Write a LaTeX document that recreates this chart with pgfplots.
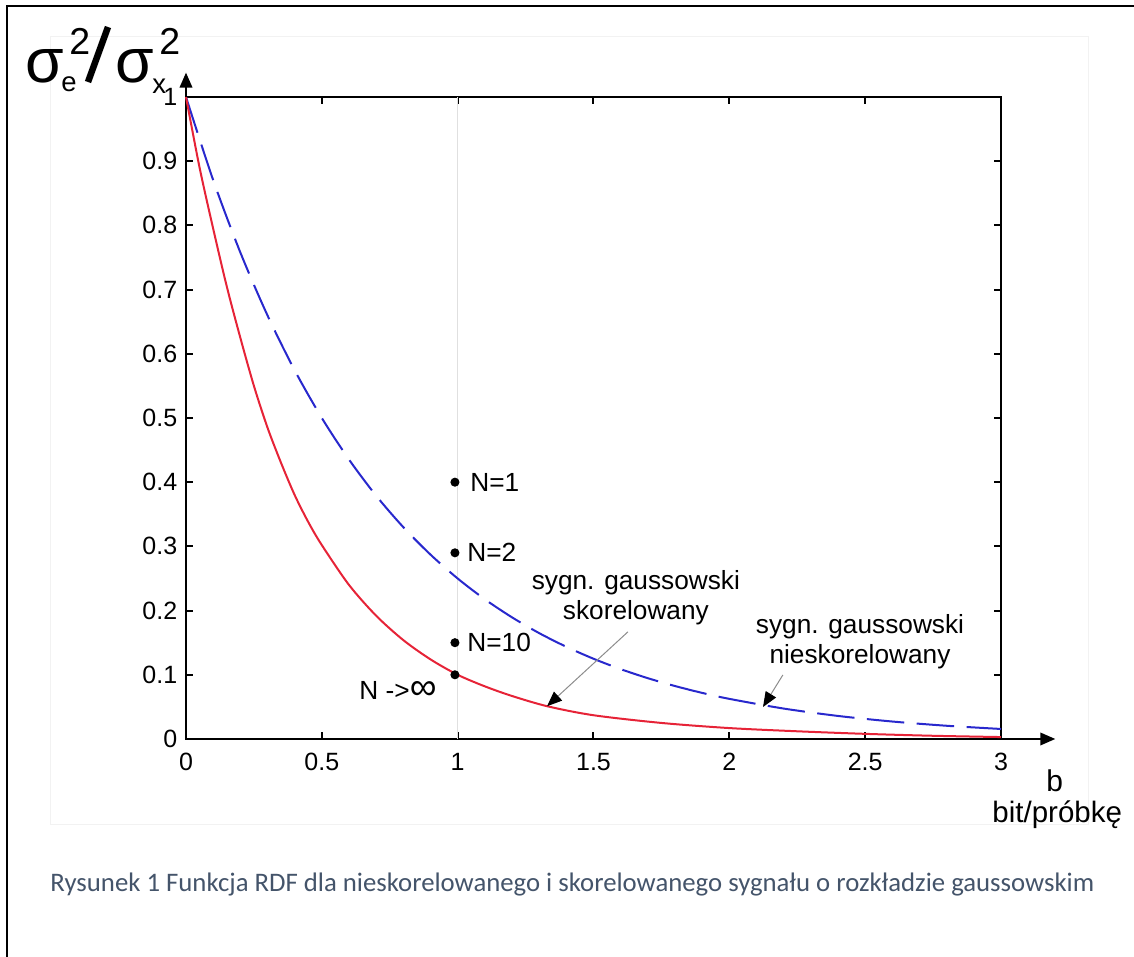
\documentclass[border=0pt]{standalone}
\usepackage{fontspec}
\setmainfont{Liberation Sans}
\newfontfamily\capfont{Carlito}
\usepackage{pgfplots}
\pgfplotsset{compat=1.18}
\usetikzlibrary{arrows.meta}
\definecolor{curveblue}{RGB}{40,40,205}
\definecolor{curvered}{RGB}{230,35,55}
\definecolor{captext}{HTML}{44546A}

\begin{document}
\begin{tikzpicture}
\path[use as bounding box] (0,0) rectangle (453.6pt,382.8pt);
% frame of the page (left and top edge only)
\draw[line width=0.8pt] (2.8pt,0) -- (2.8pt,380.4pt) -- (453.6pt,380.4pt);
\draw[black!5] (20pt,52.8pt) rectangle (435.2pt,368pt);

\begin{axis}[
    at={(74.4pt,87.2pt)}, anchor=south west,
    width=326pt, height=256.8pt, scale only axis,
    xmin=0, xmax=3, ymin=0, ymax=1,
    xtick={0,0.5,1,1.5,2,2.5,3},
    ytick={0,0.1,0.2,0.3,0.4,0.5,0.6,0.7,0.8,0.9,1},
    tick align=inside, major tick length=2.8pt,
    axis line style={line width=0.8pt},
    tick style={line width=0.8pt, black},
    ticklabel style={font=\fontsize{10}{12}\selectfont},
    /pgf/number format/assume math mode=true,
    xticklabel style={yshift=-2pt},
    clip=false,
]
\draw[black!12, line width=0.4pt] (axis cs:1,0) -- (axis cs:1,1);

% uncorrelated gaussian source
\addplot[curveblue, line width=0.8pt, dash pattern=on 15pt off 5pt, smooth] coordinates {
(0,1) (0.1,0.8706) (0.2,0.7579) (0.3,0.6598) (0.4,0.5743) (0.5,0.5)
(0.6,0.4353) (0.7,0.3789) (0.8,0.3299) (0.9,0.2872) (1.0,0.25)
(1.1,0.2176) (1.2,0.1895) (1.3,0.1649) (1.4,0.1436) (1.5,0.125)
(1.6,0.1088) (1.7,0.0947) (1.8,0.0825) (1.9,0.0718) (2.0,0.0625)
(2.2,0.0474) (2.4,0.0359) (2.6,0.0272) (2.8,0.0206) (3.0,0.0156)};

% correlated gaussian source
\addplot[curvered, line width=0.8pt, smooth] coordinates {
(0,1) (0.05,0.89) (0.1,0.795) (0.15,0.705) (0.2,0.625) (0.25,0.55)
(0.3,0.485) (0.35,0.43) (0.4,0.38) (0.45,0.338) (0.5,0.302)
(0.6,0.24) (0.7,0.192) (0.8,0.154) (0.9,0.124) (1.0,0.1)
(1.1,0.082) (1.2,0.067) (1.33,0.051) (1.5,0.037) (1.75,0.025)
(2.0,0.017) (2.25,0.012) (2.5,0.008) (2.75,0.005) (3.0,0.003)};

\addplot[only marks, mark=*, mark size=1.6pt, black] coordinates {
(0.99,0.4) (0.99,0.29) (0.99,0.15) (0.99,0.1)};

\node[anchor=west, inner sep=0, font=\fontsize{10.5}{12}\selectfont] at (axis cs:1.045,0.4) {N=1};
\node[anchor=west, inner sep=0, font=\fontsize{10.5}{12}\selectfont] at (axis cs:1.034,0.29) {N=2};
\node[anchor=west, inner sep=0, font=\fontsize{10.5}{12}\selectfont] at (axis cs:1.034,0.15) {N=10};
\node[anchor=east, inner sep=0, font=\fontsize{10.5}{12}\selectfont] at (axis cs:0.924,0.076) {N ->{\fontsize{15}{15}\selectfont ∞}};

\node[align=center, inner sep=0, font=\fontsize{10.5}{12}\selectfont] at (axis cs:1.656,0.22) {sygn. gaussowski\\skorelowany};
\node[align=center, inner sep=0, font=\fontsize{10.5}{12}\selectfont] at (axis cs:2.481,0.151) {sygn. gaussowski\\nieskorelowany};

\draw[black!45, line width=0.4pt, -{Triangle[length=6pt,width=4.8pt,black]}] (axis cs:1.627,0.167) -- (axis cs:1.329,0.051);
\draw[black!45, line width=0.4pt, -{Triangle[length=6pt,width=4.8pt,black]}] (axis cs:2.197,0.0997) -- (axis cs:2.124,0.0498);

\draw[line width=0.8pt, -{Triangle[length=6pt,width=5pt]}] (axis cs:3,0) -- (axis cs:3.2,0);
\draw[line width=0.8pt, -{Triangle[length=6pt,width=5pt]}] (axis cs:0,1) -- (axis cs:0,1.038);
\end{axis}

\begin{scope}[x=0.4pt,y=0.4pt]
% y label sigma_e^2 / sigma_x^2
\node[anchor=base west, inner sep=0, font=\fontsize{25}{25}\selectfont] at (25,875) {σ};
\node[anchor=base west, inner sep=0, font=\fontsize{11}{11}\selectfont] at (61,866) {e};
\node[anchor=base west, inner sep=0, font=\fontsize{15}{15}\selectfont] at (69,903) {2};
\draw[line width=2.6pt] (88,875) -- (108,930);
\node[anchor=base west, inner sep=0, font=\fontsize{25}{25}\selectfont] at (115,875) {σ};
\node[anchor=base west, inner sep=0, font=\fontsize{11}{11}\selectfont] at (152,864) {x};
\node[anchor=base west, inner sep=0, font=\fontsize{15}{15}\selectfont] at (159,903) {2};
% x label
\node[anchor=base west, inner sep=0, font=\fontsize{12}{12}\selectfont] at (1046,165) {b};
\node[anchor=base west, inner sep=0, font=\fontsize{11.8}{12}\selectfont] at (992,134) {bit/próbkę};
% caption
\node[anchor=base west, inner sep=0, text=captext, font=\capfont\fontsize{10.7}{12}\selectfont] at (50,65)
  {Rysunek 1 Funkcja RDF dla nieskorelowanego i skorelowanego sygnału o rozkładzie gaussowskim};
\end{scope}
\end{tikzpicture}
\end{document}
